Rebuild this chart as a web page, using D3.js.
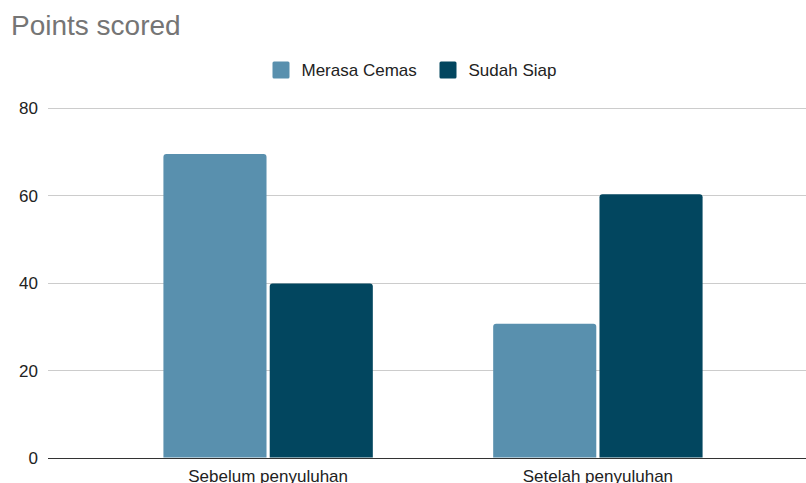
<!DOCTYPE html>
<html>
<head>
<meta charset="utf-8">
<script src="https://cdn.jsdelivr.net/npm/d3@7"></script>
<style>
  body { margin: 0; background: #fff; }
  svg text { font-family: Arial, "Liberation Sans", sans-serif; }
</style>
</head>
<body>
<div id="chart"></div>
<script>
var categories = ["Sebelum penyuluhan", "Setelah penyuluhan"];
var seriesNames = ["Merasa Cemas", "Sudah Siap"];
var merasaCemas = [69.4, 30.6];
var sudahSiap = [39.8, 60.2];
var yTicks = [0, 20, 40, 60, 80];
var colors = ["#5990ae", "#02465f"];

var width = 806, height = 483;
var margin = {top: 107.5, left: 48, bottom: 25.5};

var svg = d3.select("#chart").append("svg")
    .attr("width", width)
    .attr("height", height);

var table = categories.map(function(c, i) {
  return {cat: c, values: [merasaCemas[i], sudahSiap[i]]};
});

var y = d3.scaleLinear()
    .domain([0, 80])
    .range([height - margin.bottom, margin.top]);

// plot area runs a bit past the right edge of the picture
var x0 = d3.scaleBand()
    .domain(categories)
    .range([margin.left, 818])
    .paddingInner(0.365)
    .paddingOuter(0.35);

var x1 = d3.scaleBand()
    .domain(seriesNames)
    .range([0, x0.bandwidth()])
    .paddingInner(0.03);

// gridlines
svg.append("g").selectAll("line")
    .data(yTicks.filter(function(d) { return d > 0; }))
    .enter().append("line")
    .attr("x1", margin.left).attr("x2", width)
    .attr("y1", function(d) { return Math.round(y(d)) + 0.5; })
    .attr("y2", function(d) { return Math.round(y(d)) + 0.5; })
    .attr("stroke", "#cccccc")
    .attr("stroke-width", 1);

// y labels
var yAxis = d3.axisLeft(y).tickValues(yTicks).tickSize(0).tickPadding(0);
var yg = svg.append("g")
    .attr("transform", "translate(38,0)")
    .call(yAxis);
yg.select(".domain").remove();
yg.selectAll("text")
    .style("font-size", "17px")
    .attr("fill", "#222")
    .attr("dy", "0.36em");

function topRounded(x, yTop, w, h, r) {
  r = Math.min(r, h);
  return "M" + x + "," + (yTop + h) +
    "V" + (yTop + r) +
    "Q" + x + "," + yTop + " " + (x + r) + "," + yTop +
    "H" + (x + w - r) +
    "Q" + (x + w) + "," + yTop + " " + (x + w) + "," + (yTop + r) +
    "V" + (yTop + h) + "Z";
}

var groups = svg.append("g").selectAll("g")
    .data(table)
    .enter().append("g")
    .attr("transform", function(d) { return "translate(" + x0(d.cat) + ",0)"; });

groups.selectAll("path")
    .data(function(d) {
      return d.values.map(function(v, i) { return {name: seriesNames[i], value: v, i: i}; });
    })
    .enter().append("path")
    .attr("d", function(d) {
      return topRounded(x1(d.name), y(d.value), x1.bandwidth(), y(0) - y(d.value), 3);
    })
    .attr("fill", function(d) { return colors[d.i]; });

// baseline
svg.append("line")
    .attr("x1", margin.left).attr("x2", width)
    .attr("y1", Math.round(y(0)) + 0.5).attr("y2", Math.round(y(0)) + 0.5)
    .attr("stroke", "#333")
    .attr("stroke-width", 1);

// x labels
var xAxis = d3.axisBottom(x0).tickSize(0).tickPadding(0);
var xg = svg.append("g")
    .attr("transform", "translate(0," + y(0) + ")")
    .call(xAxis);
xg.select(".domain").remove();
xg.selectAll("text")
    .style("font-size", "17px")
    .attr("fill", "#222")
    .attr("dy", null)
    .attr("y", 24);

// title
svg.append("text")
    .attr("x", 11)
    .attr("y", 35)
    .style("font-size", "28px")
    .attr("fill", "#757575")
    .text("Points scored");

// legend
var legendX = [272.5, 439.5];
var legend = svg.append("g").selectAll("g")
    .data(seriesNames)
    .enter().append("g")
    .attr("transform", function(d, i) { return "translate(" + legendX[i] + ",61.5)"; });
legend.append("rect")
    .attr("width", 17).attr("height", 17)
    .attr("rx", 1.5)
    .attr("fill", function(d, i) { return colors[i]; });
legend.append("text")
    .attr("x", 29)
    .attr("y", 14.5)
    .style("font-size", "17px")
    .attr("fill", "#222")
    .text(function(d) { return d; });
</script>
</body>
</html>
